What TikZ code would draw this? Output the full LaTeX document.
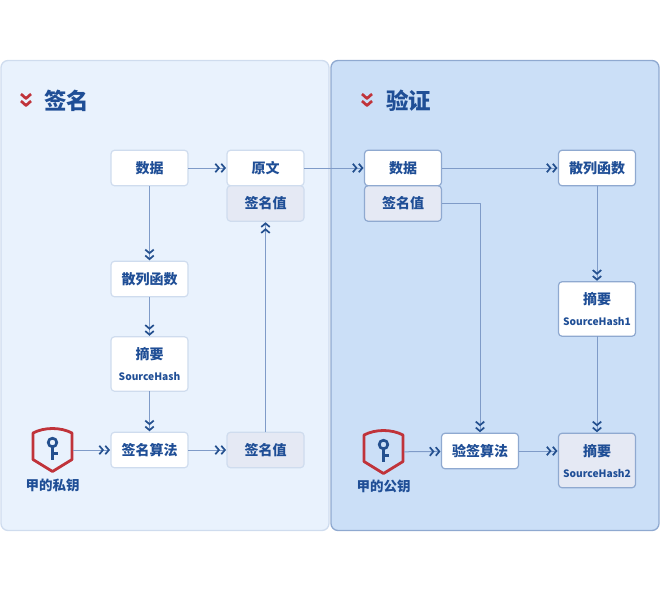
\documentclass[tikz,border=0pt]{standalone}
\usepackage{fontspec}
\setmainfont{Noto Sans CJK SC}
\usetikzlibrary{arrows.meta,calc,positioning}
\definecolor{inkBlue}{HTML}{1F4E96}
\definecolor{tipBlue}{HTML}{24508F}
\definecolor{lineBlue}{HTML}{7F9BC8}
\definecolor{panelLeft}{HTML}{E9F2FD}
\definecolor{panelRight}{HTML}{CBDFF7}
\definecolor{edgeLeft}{HTML}{CFDCEE}
\definecolor{edgeRight}{HTML}{8FA9D0}
\definecolor{greyFill}{HTML}{E5E9F4}
\definecolor{alertRed}{HTML}{C0333A}

\begin{document}
\begin{tikzpicture}[
  x=1pt, y=-1pt,
  line join=round,
  every node/.style={font=\bfseries\fontsize{14}{17}\selectfont, text=inkBlue},
  panel/.style={draw, line width=1.3pt, rounded corners=7pt, minimum width=328pt, minimum height=470pt, outer sep=0pt},
  box/.style={draw=edgeRight, line width=1.2pt, rounded corners=3.5pt, fill=white, align=center, minimum width=77pt, minimum height=35.5pt, inner sep=0pt, outer sep=0pt},
  boxL/.style={box, draw=edgeLeft},
  grey/.style={fill=greyFill},
  tall/.style={minimum height=54.5pt},
  title/.style={font=\bfseries\fontsize{22.5}{26}\selectfont},
  keyname/.style={font=\bfseries\fontsize{13.5}{16}\selectfont},
  keyslot/.style={minimum width=41pt, minimum height=45pt, inner sep=0pt, outer sep=0pt},
  arrow/.style={-{Straight Barb[length=3.6pt,width=8.5pt,line width=1.7pt,color=tipBlue,sep=0.4pt]Straight Barb[length=3.6pt,width=8.5pt,line width=1.7pt,color=tipBlue]}, draw=lineBlue, line width=1pt, shorten >=1pt},
  redchev/.style={draw=alertRed, line width=2.7pt},
  keyshield/.pic={
    \draw[draw=alertRed, line width=2.8pt] (-19.5,-17) .. controls (-8,-23) and (8,-23) .. (19.5,-17) -- (19.5,9.5) -- (0,21.5) -- (-19.5,9.5) -- cycle;
    \draw[draw=tipBlue, line width=2.7pt] (0,-7.5) circle (4.3);
    \draw[draw=tipBlue, line width=3pt] (0,-3) -- (0,10);
    \draw[draw=tipBlue, line width=2.6pt] (0,3.2) -- (5.5,3.2);
  }
]
  \useasboundingbox (0,0) rectangle (660,597);

  \node[panel, draw=edgeLeft, fill=panelLeft] (panelSign) at (165,295.5) {};
  \node[panel, draw=edgeRight, fill=panelRight] (panelCheck) at (495,295.5) {};

  \node[title] (titleSign) at (66.5,100.5) {签名};
  \node[title] (titleCheck) at (408.5,100.5) {验证};
  \draw[redchev] (21,94) -- (26,98.5) -- (31,94) (21,101) -- (26,105.5) -- (31,101);
  \draw[redchev] (362,94) -- (367,98.5) -- (372,94) (362,101) -- (367,105.5) -- (372,101);

  % left side
  \node[boxL] (dataSign) at (149.5,168) {数据};
  \node[boxL, right=39pt of dataSign] (plainSign) {原文};
  \node[boxL, grey, below=0pt of plainSign] (valueTop) {签名值};
  \node[boxL, below=75.5pt of dataSign] (hashSign) {散列函数};
  \node[boxL, tall, below=40pt of hashSign, align=center] (digestSign) {摘要\\[4pt]{\fontsize{10.2}{13}\selectfont SourceHash}};
  \node[boxL, below=41pt of digestSign] (algoSign) {签名算法};
  \node[boxL, grey, right=39pt of algoSign] (valueSign) {签名值};
  \node[keyslot] (keyPrivate) at (52.5,450) {};
  \pic at (keyPrivate) {keyshield};
  \node[keyname] (namePrivate) at (52.5,485) {甲的私钥};

  % right side
  \node[box] (dataCheck) at (403,168) {数据};
  \node[box, grey, below=0pt of dataCheck] (valueCheck) {签名值};
  \node[box] (hashCheck) at (597,168) {散列函数};
  \node[box, tall, below=96pt of hashCheck, align=center] (digestOne) {摘要\\[4pt]{\fontsize{10.2}{13}\selectfont SourceHash1}};
  \node[box] (algoCheck) at (480,451) {验签算法};
  \node[box, grey, tall] (digestTwo) at (597,460.5) {摘要\\[4pt]{\fontsize{10.2}{13}\selectfont SourceHash2}};
  \node[keyslot] (keyPublic) at (383.5,452) {};
  \pic at (keyPublic) {keyshield};
  \node[keyname] (namePublic) at (383.5,486.5) {甲的公钥};

  \draw[arrow] (dataSign) -- (plainSign);
  \draw[arrow] (dataSign) -- (hashSign);
  \draw[arrow] (hashSign) -- (digestSign);
  \draw[arrow] (digestSign) -- (algoSign);
  \draw[arrow] (keyPrivate) -- (algoSign);
  \draw[arrow] (algoSign) -- (valueSign);
  \draw[arrow] (valueSign) -- (valueTop);

  \draw[arrow] (plainSign) -- (dataCheck);
  \draw[arrow] (dataCheck) -- (hashCheck);
  \draw[arrow] (hashCheck) -- (digestOne);
  \draw[arrow] (digestOne) -- (digestTwo);
  \draw[arrow] (valueCheck) -| (algoCheck);
  \draw[arrow] (keyPublic) -- (algoCheck);
  \draw[arrow] (algoCheck) -- (algoCheck -| digestTwo.west);
\end{tikzpicture}
\end{document}
